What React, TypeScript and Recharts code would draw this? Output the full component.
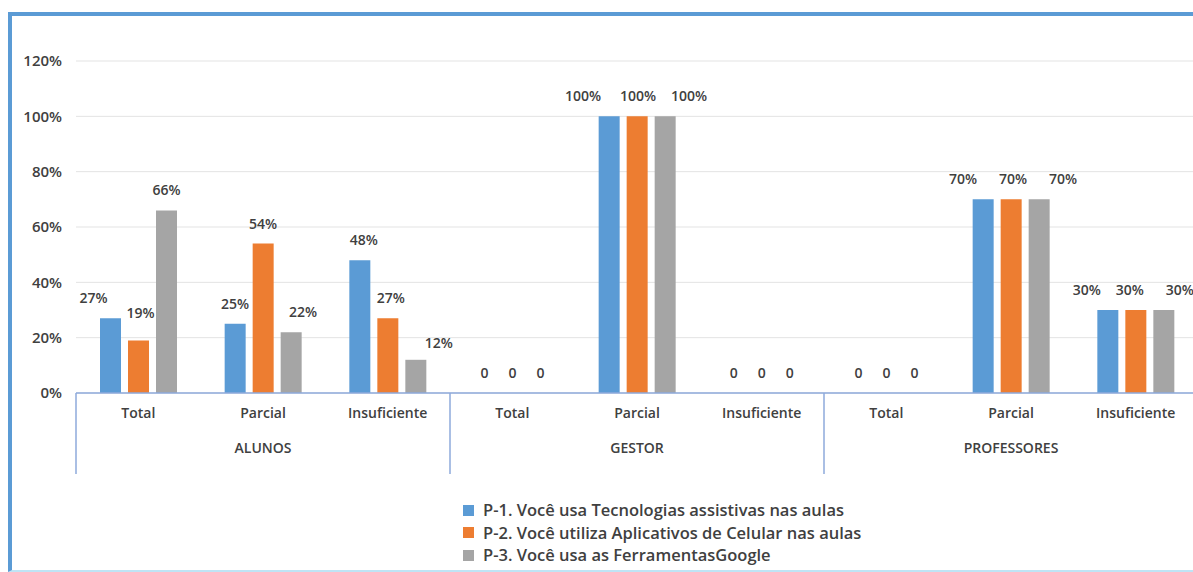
import React from "react";
import { BarChart, Bar, XAxis, YAxis, CartesianGrid, LabelList } from "recharts";

const groups = ["ALUNOS", "GESTOR", "PROFESSORES"];
const levels = ["Total", "Parcial", "Insuficiente"];

const p1 = [27, 25, 48, 0, 100, 0, 0, 70, 30];
const p2 = [19, 54, 27, 0, 100, 0, 0, 70, 30];
const p3 = [66, 22, 12, 0, 100, 0, 0, 70, 30];

const seriesNames = [
  "P-1. Você usa Tecnologias assistivas nas aulas",
  "P-2. Você utiliza Aplicativos de Celular nas aulas",
  "P-3. Você usa as FerramentasGoogle",
];
const yTicks = [0, 20, 40, 60, 80, 100, 120];

const COLORS = ["#5b9bd5", "#ed7d31", "#a5a5a5"];
const TEXT = "#404040";
const AXIS = "#8eaadb";
const FONT = "'Open Sans', sans-serif";

// data labels were dragged around by hand in the original, so nudge them a bit
const LABEL_DX = [
  [-17, 0, 4, 0, -26, 0, 0, -20, -21],
  [2, 0, 3, 0, 1, 0, 0, 2, -6],
  [0, 12, 23, 0, 24, 0, 0, 24, 16],
];
const LABEL_DY = [
  [0, 0, 0, 0, 0, 0, 0, 0, 0],
  [-7, 0, 0, 0, 0, 0, 0, 0, 0],
  [0, 0, 3, 0, 0, 0, 0, 0, 0],
];

const W = 1210;
const H = 572;
const Y_AXIS_W = 76;
const RIGHT = 12;
const STEP = (W - Y_AXIS_W - RIGHT) / (groups.length * levels.length);

const data = groups.flatMap((g, gi) =>
  levels.map((l, li) => {
    const i = gi * levels.length + li;
    return { id: `${g}-${l}`, group: g, level: l, p1: p1[i], p2: p2[i], p3: p3[i] };
  })
);

function CategoryTick(props: any) {
  const { x, y, payload } = props;
  const i = payload.index as number;
  const row = data[i];
  return (
    <g>
      <text x={x} y={y + 25} textAnchor="middle" fontSize={14} fontWeight={600} fill={TEXT} fontFamily={FONT}>
        {row.level}
      </text>
      {i % 3 === 0 && (
        <line x1={x - STEP / 2} x2={x - STEP / 2} y1={y} y2={y + 81} stroke={AXIS} strokeWidth={1.5} />
      )}
      {i === data.length - 1 && (
        <line x1={x + STEP / 2} x2={x + STEP / 2} y1={y} y2={y + 81} stroke={AXIS} strokeWidth={1.5} />
      )}
      {i % 3 === 1 && (
        <text x={x} y={y + 60} textAnchor="middle" fontSize={14} fontWeight={600} fill={TEXT} fontFamily={FONT}>
          {row.group}
        </text>
      )}
    </g>
  );
}

const makeLabel = (s: number) => (props: any) => {
  const { x, y, width, value } = props;
  // zero bars can be dropped from the list, so find the category from x
  const cat = Math.max(0, Math.min(8, Math.floor((x + width / 2 - Y_AXIS_W) / STEP)));
  return (
    <text
      x={x + width / 2 + LABEL_DX[s][cat]}
      y={y - 15 + LABEL_DY[s][cat]}
      textAnchor="middle"
      fontSize={14}
      fontWeight={600}
      fill={TEXT}
      fontFamily={FONT}
    >
      {value === 0 ? "0" : `${value}%`}
    </text>
  );
};

export default function App() {
  const keys = ["p1", "p2", "p3"];
  return (
    <div
      style={{
        position: "absolute",
        left: 0,
        top: 0,
        width: 1193,
        height: H,
        overflow: "hidden",
        background: "#fff",
      }}
    >
      <div
        style={{
          position: "absolute",
          left: 8,
          top: 12,
          width: 1200,
          height: 554,
          borderTop: "4px solid #5b9bd5",
          borderLeft: "4px solid #5b9bd5",
          borderBottom: "2px solid #bfe4f5",
        }}
      />
      <div style={{ position: "absolute", left: 0, top: 0 }}>
        <BarChart
          width={W}
          height={H}
          data={data}
          margin={{ top: 61, right: RIGHT, left: 0, bottom: 0 }}
          barSize={21}
          barGap={7}
          barCategoryGap={24}
        >
          <CartesianGrid vertical={false} stroke="#e3e3e3" />
          <XAxis
            dataKey="id"
            height={179}
            interval={0}
            tickLine={false}
            tickSize={0}
            tickMargin={0}
            axisLine={{ stroke: AXIS, strokeWidth: 1.5 }}
            tick={<CategoryTick />}
          />
          <YAxis
            width={Y_AXIS_W}
            domain={[0, 120]}
            ticks={yTicks}
            tickFormatter={(v) => `${v}%`}
            axisLine={false}
            tickLine={false}
            tickSize={0}
            tickMargin={14}
            tick={{ fontSize: 15, fontWeight: 600, fill: TEXT, fontFamily: FONT }}
          />
          {keys.map((k, s) => (
            <Bar
              key={k}
              dataKey={k}
              name={seriesNames[s]}
              fill={COLORS[s]}
              minPointSize={(v: number) => (v === 0 ? 0.01 : 0)}
              isAnimationActive={false}
            >
              <LabelList dataKey={k} content={makeLabel(s)} />
            </Bar>
          ))}
        </BarChart>
      </div>
      <div
        style={{
          position: "absolute",
          left: 463,
          top: 499,
          fontFamily: FONT,
          fontSize: 16.5,
          fontWeight: 600,
          color: TEXT,
          lineHeight: "22.5px",
        }}
      >
        {seriesNames.map((n, i) => (
          <div key={n} style={{ display: "flex", alignItems: "center", whiteSpace: "nowrap" }}>
            <span
              style={{
                display: "inline-block",
                width: 11,
                height: 11,
                background: COLORS[i],
                marginRight: 9,
              }}
            />
            {n}
          </div>
        ))}
      </div>
    </div>
  );
}
